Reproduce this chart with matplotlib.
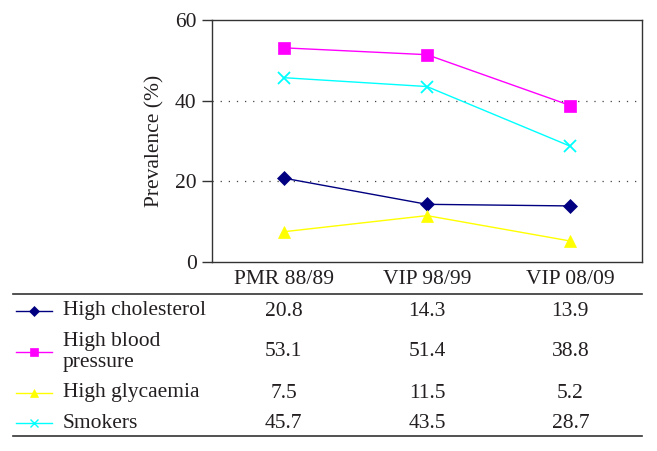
import matplotlib
matplotlib.use('Agg')
import matplotlib.pyplot as plt

# data
periods = ['PMR 88/89', 'VIP 98/99', 'VIP 08/09']
series_names = ['High cholesterol', 'High blood\npressure', 'High glycaemia', 'Smokers']
cholesterol = [20.8, 14.3, 13.9]
blood_pressure = [53.1, 51.4, 38.8]
glycaemia = [7.5, 11.5, 5.2]
smokers = [45.7, 43.5, 28.7]
y_ticks = [0, 20, 40, 60]

series = [cholesterol, blood_pressure, glycaemia, smokers]
colors = ['#000080', '#ff00ff', '#ffff00', '#00ffff']
markers = ['D', 's', '^', 'x']
msizes = [7, 8, 8.5, 8]

plt.rcParams['font.family'] = ['Liberation Serif', 'DejaVu Serif']
txt = '#231f20'
fs = 15.5

W, H = 657, 451
fig = plt.figure(figsize=(W / 100, H / 100), dpi=100)

# main chart, pixel box 212..642 x 20..262
ax = fig.add_axes([212 / W, (H - 262) / H, 430 / W, 242 / H])
xs = range(len(periods))
for vals, c, m, ms in zip(series, colors, markers, msizes):
    ax.plot(xs, vals, color=c, lw=1.0, marker=m, markersize=ms,
            markeredgewidth=1.3 if m == 'x' else 0.5, markeredgecolor=c)

ax.set_xlim(-0.5, 2.5)
ax.set_ylim(0, 60)
ax.set_yticks(y_ticks)
ax.set_xticks(list(xs))
ax.set_xticklabels(periods, fontsize=fs, color=txt)
ax.tick_params(axis='x', length=0, pad=6)
ax.tick_params(axis='y', length=7, width=1.0, labelsize=fs, labelcolor=txt,
               color='#333333', pad=4)
for yv in y_ticks[1:-1]:
    ax.axhline(yv, color='#444444', lw=0.9, ls=(0, (1, 5.5)), zorder=0)
for s in ax.spines.values():
    s.set_color('#333333')
    s.set_linewidth(1.0)
ax.set_ylabel('Prevalence (%)', fontsize=fs, color=txt, labelpad=8)

# data table below, pixel box 13..642 x 294..436
px_per_unit = 430 / 3
tax = fig.add_axes([13 / W, (H - 436) / H, 629 / W, 142 / H])
x0 = -0.5 - (212 - 13) / px_per_unit
tax.set_xlim(x0, x0 + 629 / px_per_unit)
tax.set_ylim(142, 0)
tax.set_xticks([])
tax.set_yticks([])
for side in ['left', 'right']:
    tax.spines[side].set_visible(False)
for side in ['top', 'bottom']:
    tax.spines[side].set_color('#333333')
    tax.spines[side].set_linewidth(1.2)
tax.patch.set_alpha(0)

row_y = [17, 58, 99, 129]
lx1 = x0 + 3 / px_per_unit
lx2 = x0 + 39 / px_per_unit
tx = x0 + 50 / px_per_unit
for name, vals, c, m, y in zip(series_names, series, colors, markers, row_y):
    tax.plot([lx1, lx2], [y, y], color=c, lw=1.0)
    tax.plot([(lx1 + lx2) / 2], [y], color=c, marker=m,
             markersize=5.5 if m != 'x' else 6, markeredgewidth=1.0 if m == 'x' else 0.5)
    tax.text(tx, y, name, fontsize=fs, color=txt, va='center', ha='left',
             linespacing=1.1)
    for i, v in enumerate(vals):
        tax.text(i, y, f'{v:.1f}', fontsize=fs, color=txt, va='center', ha='center')

fig.savefig('out.png', dpi=100)
